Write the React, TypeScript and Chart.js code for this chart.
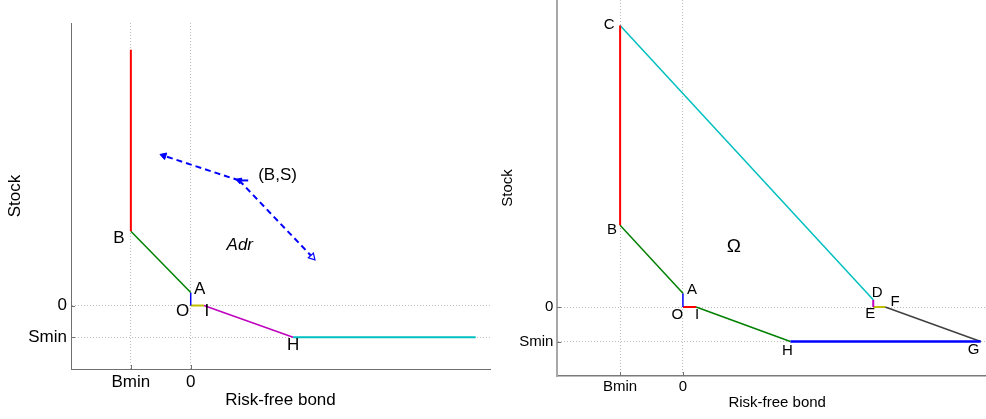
import React, { useEffect, useRef } from 'react';
import { Chart, registerables } from 'chart.js';

Chart.register(...registerables);

const FONT = '"Liberation Sans", Arial, Helvetica, sans-serif';

// ---- shared axis data ----
const X_RANGE = [-2, 5];
const Y_RANGE = [-2, 8.9];
const X_TICKS = [-1, 0];
const X_TICK_LABELS = ['Bmin', '0'];
const Y_TICKS = [-1, 0];
const Y_TICK_LABELS = ['Smin', '0'];
const X_TITLE = 'Risk-free bond';
const Y_TITLE = 'Stock';

// MATLAB classic colour order
const BLUE = '#0000ff';
const GREEN = '#008000';
const RED = '#ff0000';
const CYAN = '#00bfbf';
const MAGENTA = '#bf00bf';
const YELLOW = '#bfbf00';
const DARK = '#404040';

// ---- left panel ----
const LEFT_NAMES = ['', 'B', 'A', 'O', 'I', 'H', ''];
const LEFT_X = [-1, -1, 0, 0, 0.22, 1.71, 4.76];
const LEFT_Y = [8.06, 2.34, 0.41, 0, 0, -1, -1];
const LEFT_SEGMENTS = [[0, 1], [1, 2], [2, 3], [3, 4], [4, 5], [5, 6]];
const LEFT_SEG_COLORS = [RED, GREEN, BLUE, YELLOW, MAGENTA, CYAN];
// arrow end (up-left), current point (B,S), arrow end (down-right), short stub
const ARROW_X = [-0.45, 0.81, 2.03, 0.96];
const ARROW_Y = [4.72, 3.94, 1.53, 3.94];
const ARROW_LABEL = '(B,S)';
const LEFT_REGION = 'Adr';
const LEFT_REGION_XY = [0.82, 1.89];

// ---- right panel ----
const RIGHT_NAMES = ['C', 'B', 'A', 'O', 'I', 'H', 'G', 'D', 'E', 'F'];
const RIGHT_X = [-1, -1, 0, 0, 0.21, 1.71, 4.74, 3.03, 3.03, 3.22];
const RIGHT_Y = [8.16, 2.37, 0.4, 0, 0, -1, -1, 0.21, 0, 0];
const RIGHT_SEGMENTS = [[0, 1], [1, 2], [2, 3], [3, 4], [4, 5], [5, 6], [0, 7], [7, 8], [8, 9], [9, 6]];
const RIGHT_SEG_COLORS = [RED, GREEN, BLUE, RED, GREEN, BLUE, CYAN, MAGENTA, YELLOW, DARK];
const RIGHT_REGION = 'Ω';
const RIGHT_REGION_XY = [0.81, 1.75];

// label offsets in pixels (styling only)
const LEFT_OFFSETS: Record<string, [number, number]> = {
  B: [-12, 7], A: [9, -3], O: [-8, 6], I: [3, 6], H: [0, 8],
};
const RIGHT_OFFSETS: Record<string, [number, number]> = {
  C: [-11, -1], B: [-8, 5], A: [9, -3], O: [-5.5, 8], I: [1, 8],
  D: [4, -7], E: [-3, 7], F: [10, -5], H: [-3, 9], G: [-7, 8],
};

type Label = { text: string; x: number; y: number; dx: number; dy: number; align?: CanvasTextAlign; italic?: boolean; size?: number };

function makeAnnotPlugin(labels: Label[], fontSize: number, tickColor: string) {
  return {
    id: 'annot',
    afterDraw(chart: any) {
      const { ctx, chartArea } = chart;
      const xs = chart.scales.x;
      const ys = chart.scales.y;
      ctx.save();
      ctx.strokeStyle = tickColor;
      ctx.lineWidth = 1;
      X_TICKS.forEach((v) => {
        const px = Math.round(xs.getPixelForValue(v)) + 0.5;
        ctx.beginPath();
        ctx.moveTo(px, chartArea.bottom);
        ctx.lineTo(px, chartArea.bottom - 4);
        ctx.stroke();
      });
      Y_TICKS.forEach((v) => {
        const py = Math.round(ys.getPixelForValue(v)) + 0.5;
        ctx.beginPath();
        ctx.moveTo(chartArea.left, py);
        ctx.lineTo(chartArea.left + 4, py);
        ctx.stroke();
      });
      ctx.fillStyle = '#000';
      ctx.textBaseline = 'middle';
      labels.forEach((l) => {
        ctx.font = `${l.italic ? 'italic ' : ''}${l.size || fontSize}px ${FONT}`;
        ctx.textAlign = l.align || 'center';
        ctx.fillText(l.text, xs.getPixelForValue(l.x) + l.dx, ys.getPixelForValue(l.y) + l.dy);
      });
      ctx.restore();
    },
  };
}

function segDatasets(xs: number[], ys: number[], segs: number[][], colors: string[], widths: number[]) {
  return segs.map((s, i) => ({
    data: [{ x: xs[s[0]], y: ys[s[0]] }, { x: xs[s[1]], y: ys[s[1]] }],
    borderColor: colors[i],
    borderWidth: widths[i],
    showLine: true,
    pointRadius: 0,
    fill: false,
  }));
}

type Layout = {
  pad: { left: number; top: number; right: number; bottom: number };
  yWidth: number;
  xHeight: number;
  fontSize: number;
  tickPadX: number;
  titlePadY: number;
  titlePadX: number;
  yBorder: { color: string; width: number };
  xBorder: { color: string; width: number };
};

function makeConfig(datasets: any[], labels: Label[], L: Layout) {
  const font = { family: FONT, size: L.fontSize };
  return {
    type: 'scatter',
    data: { datasets },
    options: {
      animation: false,
      responsive: false,
      devicePixelRatio: 1,
      events: [],
      layout: { padding: L.pad },
      plugins: { legend: { display: false }, tooltip: { enabled: false } },
      scales: {
        x: {
          type: 'linear',
          min: X_RANGE[0],
          max: X_RANGE[1],
          afterBuildTicks: (s: any) => { s.ticks = X_TICKS.map((v) => ({ value: v })); },
          afterFit: (s: any) => { s.height = L.xHeight; s.paddingLeft = 0; s.paddingRight = 0; },
          ticks: {
            callback: (v: any) => X_TICK_LABELS[X_TICKS.indexOf(Number(v))] ?? '',
            font, color: '#000', padding: L.tickPadX, maxRotation: 0, autoSkip: false,
          },
          grid: { color: '#bcbcbc', lineWidth: 1, drawTicks: false },
          border: { display: true, color: L.xBorder.color, width: L.xBorder.width, dash: [1, 2] },
          title: { display: true, text: X_TITLE, font, color: '#000', padding: { top: 0, bottom: L.titlePadX } },
        },
        y: {
          type: 'linear',
          min: Y_RANGE[0],
          max: Y_RANGE[1],
          afterBuildTicks: (s: any) => { s.ticks = Y_TICKS.map((v) => ({ value: v })); },
          afterFit: (s: any) => { s.width = L.yWidth; s.paddingTop = 0; s.paddingBottom = 0; },
          ticks: {
            callback: (v: any) => Y_TICK_LABELS[Y_TICKS.indexOf(Number(v))] ?? '',
            font, color: '#000', padding: 4, autoSkip: false,
          },
          grid: { color: '#bcbcbc', lineWidth: 1, drawTicks: false },
          border: { display: true, color: L.yBorder.color, width: L.yBorder.width, dash: [1, 2] },
          title: { display: true, text: Y_TITLE, font, color: '#000', padding: { top: L.titlePadY, bottom: 0 } },
        },
      },
    },
    plugins: [makeAnnotPlugin(labels, L.fontSize, '#707070')],
  };
}

function ChartCanvas({ left, top, width, height, build }: { left: number; top: number; width: number; height: number; build: () => any }) {
  const ref = useRef<HTMLCanvasElement | null>(null);
  useEffect(() => {
    if (!ref.current) return;
    const chart = new Chart(ref.current, build());
    return () => chart.destroy();
  }, []);
  return (
    <canvas
      ref={ref}
      width={width}
      height={height}
      style={{ position: 'absolute', left, top, width, height }}
    />
  );
}

function buildLeft() {
  const segs = segDatasets(LEFT_X, LEFT_Y, LEFT_SEGMENTS, LEFT_SEG_COLORS, [2, 1.5, 1.5, 2, 1.5, 2]);
  const bs = { x: ARROW_X[1], y: ARROW_Y[1] };
  const arrows = [
    {
      data: [bs, { x: ARROW_X[0], y: ARROW_Y[0] }],
      borderColor: BLUE, borderWidth: 2, borderDash: [6, 4], showLine: true,
      pointStyle: 'triangle', pointRadius: [3.5, 4], pointRotation: [288, 288],
      pointBackgroundColor: BLUE, pointBorderColor: BLUE, pointBorderWidth: 1,
    },
    {
      data: [bs, { x: ARROW_X[2], y: ARROW_Y[2] }],
      borderColor: BLUE, borderWidth: 2, borderDash: [6, 4], showLine: true,
      pointStyle: 'triangle', pointRadius: [0, 4], pointRotation: [0, 137],
      pointBackgroundColor: '#ffffff', pointBorderColor: BLUE, pointBorderWidth: 1.2,
    },
    {
      data: [bs, { x: ARROW_X[3], y: ARROW_Y[3] }],
      borderColor: BLUE, borderWidth: 2, showLine: true, pointRadius: 0,
    },
  ];
  const labels: Label[] = [];
  LEFT_NAMES.forEach((n, i) => {
    if (!n) return;
    const o = LEFT_OFFSETS[n];
    labels.push({ text: n, x: LEFT_X[i], y: LEFT_Y[i], dx: o[0], dy: o[1] });
  });
  labels.push({ text: ARROW_LABEL, x: ARROW_X[1], y: ARROW_Y[1], dx: 19, dy: -5, align: 'left' });
  labels.push({ text: LEFT_REGION, x: LEFT_REGION_XY[0], y: LEFT_REGION_XY[1], dx: 0, dy: 0, italic: true });
  return makeConfig([...segs, ...arrows], labels, {
    pad: { left: 0, top: 23, right: 10, bottom: 4.8 },
    yWidth: 71,
    xHeight: 45.2,
    fontSize: 17,
    tickPadX: 3,
    titlePadY: 4.8,
    titlePadX: 4,
    yBorder: { color: '#707070', width: 1 },
    xBorder: { color: '#707070', width: 1 },
  });
}

function buildRight() {
  const segs = segDatasets(RIGHT_X, RIGHT_Y, RIGHT_SEGMENTS, RIGHT_SEG_COLORS, [2, 1.5, 1.5, 2, 1.5, 2.5, 1.5, 2, 2, 1.5]);
  const labels: Label[] = [];
  RIGHT_NAMES.forEach((n, i) => {
    const o = RIGHT_OFFSETS[n];
    labels.push({ text: n, x: RIGHT_X[i], y: RIGHT_Y[i], dx: o[0], dy: o[1] });
  });
  labels.push({ text: RIGHT_REGION, x: RIGHT_REGION_XY[0], y: RIGHT_REGION_XY[1], dx: 0, dy: 0, size: 19 });
  return makeConfig(segs, labels, {
    pad: { left: 0, top: 0, right: 10, bottom: 3 },
    yWidth: 57.3,
    xHeight: 40,
    fontSize: 15,
    tickPadX: 2,
    titlePadY: -1,
    titlePadX: 4,
    yBorder: { color: '#a8a8a8', width: 2 },
    xBorder: { color: '#7a7a7a', width: 1.5 },
  });
}

export default function App() {
  return (
    <div style={{ position: 'absolute', left: 0, top: 0, width: 986, height: 419, overflow: 'hidden', background: '#fff' }}>
      <ChartCanvas left={0} top={0} width={500} height={419} build={buildLeft} />
      <ChartCanvas left={500} top={0} width={507} height={419} build={buildRight} />
    </div>
  );
}
